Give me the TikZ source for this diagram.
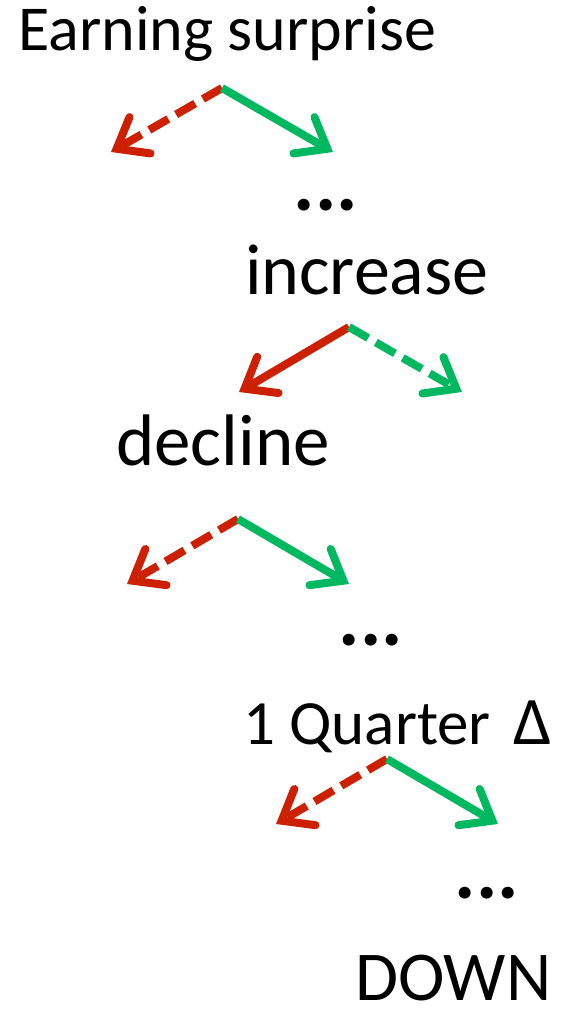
\documentclass[tikz,border=0pt]{standalone}
\usepackage{fontspec}
\setmainfont{Carlito}
\usetikzlibrary{arrows.meta}
\definecolor{upgreen}{RGB}{0,184,96}
\definecolor{downred}{RGB}{204,32,0}

\begin{document}
\begin{tikzpicture}[x=1pt,y=-1pt,
  lbl/.style={inner sep=0pt,anchor=base west,font=\fontsize{73}{78}\selectfont},
  dots/.style={inner sep=0pt,anchor=base,font=\fontsize{80}{84}\selectfont\bfseries},
  arr/.style={line width=8pt,
              -{Straight Barb[length=27pt,width=42pt,line cap=round,line join=miter]}},
  gainline/.style={arr,draw=upgreen},
  lossline/.style={arr,draw=downred},
  dsh/.style={dash pattern=on 22pt off 9pt}]
  \useasboundingbox (0,0) rectangle (567,1009);
  % labels
  \node[lbl,font=\fontsize{64}{70}\selectfont] (earn) at (18,50) {Earning surprise};
  \node[lbl,font=\fontsize{72}{78}\selectfont] (incr) at (245,294) {increase};
  \node[lbl] (decl) at (116,465) {decline};
  \node[lbl,font=\fontsize{63}{70}\selectfont] (qtr) at (243,744) {1 Quarter\hspace{0.36em}{\fontsize{68}{70}\selectfont Δ}};
  \node[lbl,font=\fontsize{70}{76}\selectfont] (down) at (355,1000) {DOWN};
  \node[dots] (dots1) at (326,210) {...};
  \node[dots] (dots2) at (371,645) {...};
  \node[dots] (dots3) at (487,898) {...};
  % branch points
  \coordinate (b1) at (222,88);
  \coordinate (b1l) at (111,152);
  \coordinate (b1r) at (333,152);
  \coordinate (b2) at (349,327);
  \coordinate (b2l) at (239,392);
  \coordinate (b2r) at (462,392);
  \coordinate (b3) at (238,519);
  \coordinate (b3l) at (127,584);
  \coordinate (b3r) at (349,584);
  \coordinate (b4) at (387,759);
  \coordinate (b4l) at (276,824);
  \coordinate (b4r) at (498,824);
  % arrows
  \draw[lossline,dsh] (b1) -- (b1l);
  \draw[gainline] (b1) -- (b1r);
  \draw[lossline] (b2) -- (b2l);
  \draw[gainline,dsh] (b2) -- (b2r);
  \draw[lossline,dsh] (b3) -- (b3l);
  \draw[gainline] (b3) -- (b3r);
  \draw[lossline,dsh] (b4) -- (b4l);
  \draw[gainline] (b4) -- (b4r);
\end{tikzpicture}
\end{document}
